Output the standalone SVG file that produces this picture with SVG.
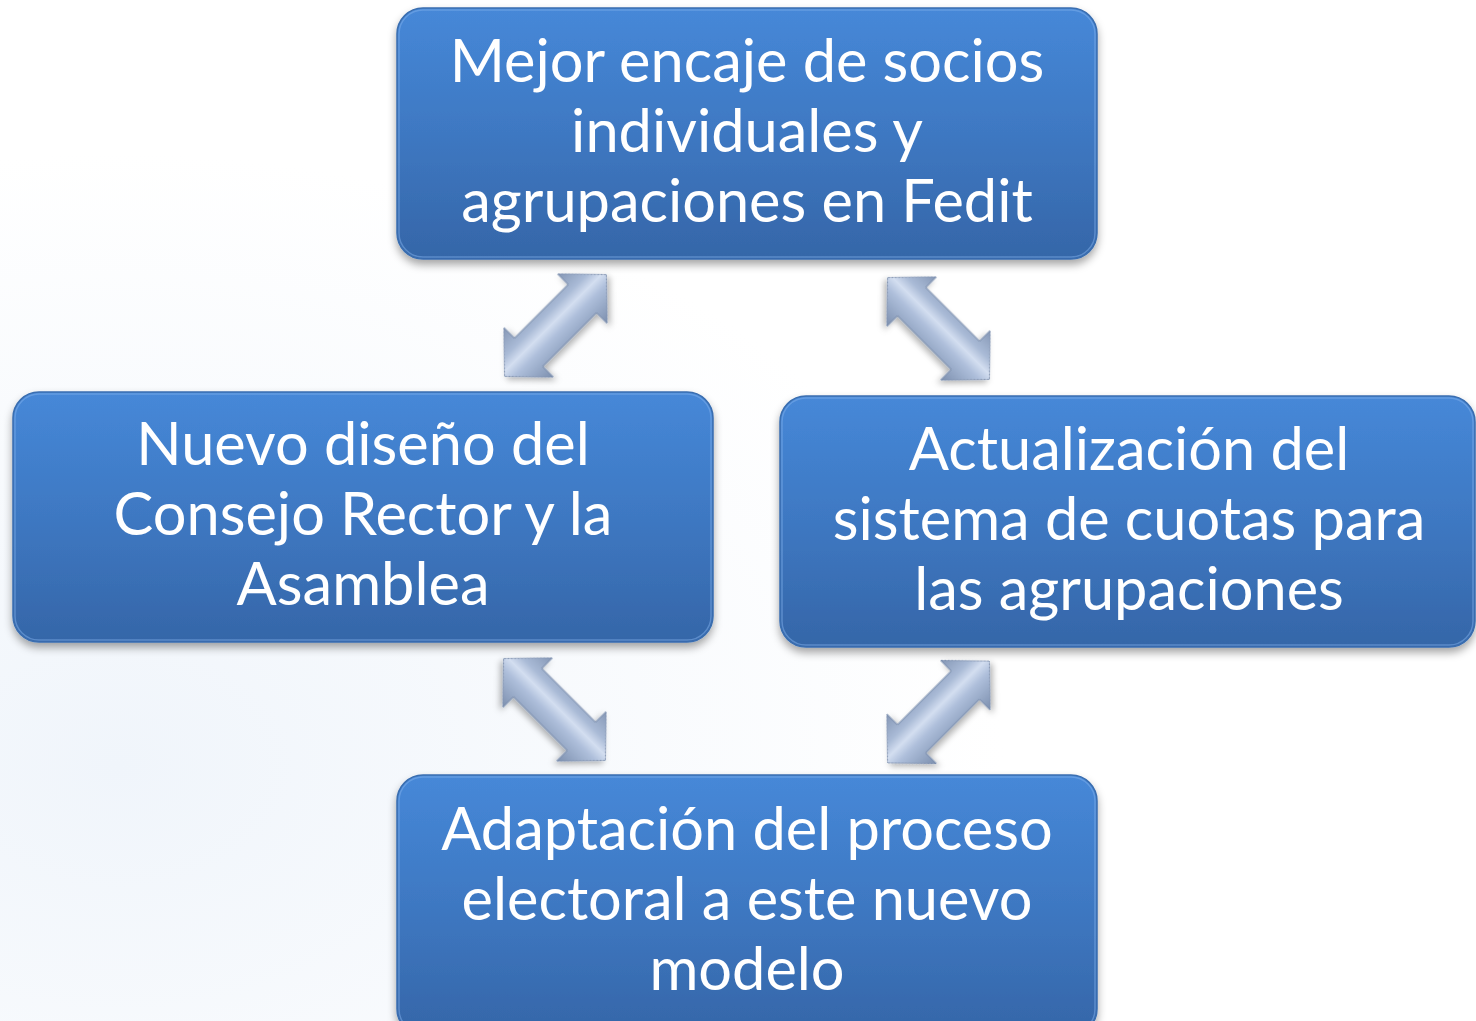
<svg xmlns="http://www.w3.org/2000/svg" width="1476" height="1021" viewBox="0 0 1476 1021">
  <defs>
    <radialGradient id="bg" cx="0.08" cy="0.75" r="0.6">
      <stop offset="0" stop-color="#f0f5fb"/>
      <stop offset="1" stop-color="#ffffff"/>
    </radialGradient>
    <linearGradient id="boxFill" x1="0" y1="0" x2="0" y2="1">
      <stop offset="0" stop-color="#4688d8"/>
      <stop offset="0.5" stop-color="#3e78c2"/>
      <stop offset="1" stop-color="#3566a8"/>
    </linearGradient>
    <linearGradient id="arrowGrad" x1="0" y1="-35" x2="0" y2="35" gradientUnits="userSpaceOnUse">
      <stop offset="0" stop-color="#8597b5"/>
      <stop offset="0.3" stop-color="#a9bad6"/>
      <stop offset="0.45" stop-color="#d3def0"/>
      <stop offset="0.6" stop-color="#aebfdb"/>
      <stop offset="1" stop-color="#7c8fae"/>
    </linearGradient>
    <filter id="shadow" x="-10%" y="-10%" width="120%" height="130%">
      <feDropShadow dx="0" dy="5" stdDeviation="4" flood-color="#000" flood-opacity="0.35"/>
    </filter>
    <filter id="ashadow" x="-20%" y="-20%" width="140%" height="140%">
      <feDropShadow dx="0" dy="4" stdDeviation="3" flood-color="#000" flood-opacity="0.3"/>
    </filter>
    <path id="dblArrow" d="M-72,0 L-38,-35 L-38,-20 L38,-20 L38,-35 L72,0 L38,35 L38,20 L-38,20 L-38,35 Z"/>
  </defs>
  <style>
    .box { fill: url(#boxFill); stroke: #3a6eb0; stroke-width: 1.5; filter: url(#shadow); }
    .hl { fill: none; stroke: #7fb0ec; stroke-width: 1.5; opacity: 0.5; }
    .lbl { font-family: Lato, "Liberation Sans", sans-serif; font-size: 59.5px; fill: #ffffff; text-anchor: middle; }
    .arr { fill: url(#arrowGrad); stroke: #7a8eae; stroke-width: 1; filter: url(#ashadow); }
  </style>
  <rect width="1476" height="1021" fill="url(#bg)"/>

  <g id="connectors">
    <use href="#dblArrow" class="arr" transform="translate(555.5,325.5) rotate(-45)"/>
    <use href="#dblArrow" class="arr" transform="translate(938.5,328.5) rotate(45)"/>
    <use href="#dblArrow" class="arr" transform="translate(554.5,709.5) rotate(45)"/>
    <use href="#dblArrow" class="arr" transform="translate(938.5,712) rotate(-45)"/>
  </g>

  <g id="node-top">
    <rect class="box" x="397" y="8" width="700" height="251" rx="26"/>
    <rect class="hl" x="399" y="10" width="696" height="247" rx="24"/>
    <text class="lbl" x="747" y="82">Mejor encaje de socios</text>
    <text class="lbl" x="747" y="152">individuales y</text>
    <text class="lbl" x="747" y="222">agrupaciones en Fedit</text>
  </g>

  <g id="node-left">
    <rect class="box" x="13" y="392" width="700" height="250" rx="26"/>
    <rect class="hl" x="15" y="394" width="696" height="246" rx="24"/>
    <text class="lbl" x="363" y="465">Nuevo diseño del</text>
    <text class="lbl" x="363" y="535">Consejo Rector y la</text>
    <text class="lbl" x="363" y="605">Asamblea</text>
  </g>

  <g id="node-right">
    <rect class="box" x="780" y="396" width="695" height="251" rx="26"/>
    <rect class="hl" x="782" y="398" width="691" height="247" rx="24"/>
    <text class="lbl" x="1129" y="470">Actualización del</text>
    <text class="lbl" x="1129" y="540">sistema de cuotas para</text>
    <text class="lbl" x="1129" y="610">las agrupaciones</text>
  </g>

  <g id="node-bottom">
    <rect class="box" x="397" y="775" width="700" height="260" rx="26"/>
    <rect class="hl" x="399" y="777" width="696" height="256" rx="24"/>
    <text class="lbl" x="747" y="850">Adaptación del proceso</text>
    <text class="lbl" x="747" y="920">electoral a este nuevo</text>
    <text class="lbl" x="747" y="990">modelo</text>
  </g>
</svg>
